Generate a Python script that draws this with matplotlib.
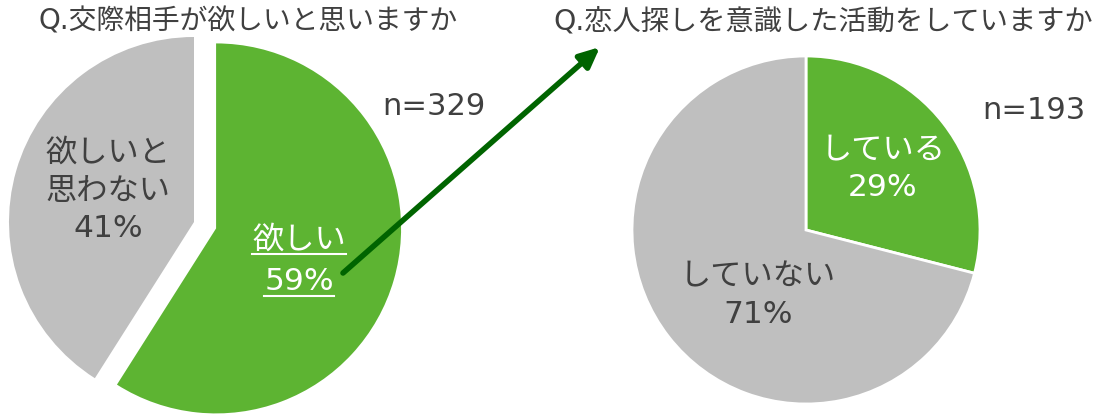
import matplotlib.pyplot as plt

plt.rcParams['font.family'] = ['DejaVu Sans', 'Noto Sans CJK JP']

# data
q1_title = 'Q.交際相手が欲しいと思いますか'
q1_labels = ['欲しい', '欲しいと\n思わない']
q1_values = [59, 41]
q1_n = 329

q2_title = 'Q.恋人探しを意識した活動をしていますか'
q2_labels = ['している', 'していない']
q2_values = [29, 71]
q2_n = 193

green = '#5DB432'
gray = '#BFBFBF'
dark = '#404040'
H = 417

fig = plt.figure(figsize=(10.99, 4.17), dpi=100)
ax = fig.add_axes([0, 0, 1, 1])

# left pie, "wanted" slice pulled out (explode is in data units here)
ax.pie(q1_values, colors=[green, gray], startangle=90, counterclock=False,
       explode=[23, 0], radius=185, center=(194, H - 222), frame=True)

# right pie
ax.pie(q2_values, colors=[green, gray], startangle=90, counterclock=False,
       radius=174, center=(806, H - 230), frame=True,
       wedgeprops=dict(edgecolor='white', linewidth=2))
ax.set_xlim(0, 1099)
ax.set_ylim(0, H)
ax.set_aspect('equal')
ax.axis('off')

ax.text(38, H - 21, q1_title, fontsize=20, color=dark, va='center', ha='left')
ax.text(553, H - 21, q2_title, fontsize=20.3, color=dark, va='center', ha='left')
ax.text(434, H - 106, f'n={q1_n}', fontsize=22, color=dark, va='center', ha='center')
ax.text(1034, H - 110, f'n={q2_n}', fontsize=22, color=dark, va='center', ha='center')

fs = 22.5
ax.text(108, H - 191, f'{q1_labels[1]}\n{q1_values[1]}%', fontsize=fs,
        color=dark, ha='center', va='center', linespacing=1.38)
t1 = ax.text(299, H - 240, q1_labels[0], fontsize=fs, color='white',
             ha='center', va='center')
t2 = ax.text(299, H - 282, f'{q1_values[0]}%', fontsize=fs, color='white',
             ha='center', va='center')
ax.text(883, H - 169, f'{q2_labels[0]}\n{q2_values[0]}%', fontsize=fs,
        color='white', ha='center', va='center', linespacing=1.38)
ax.text(758, H - 296, f'{q2_labels[1]}\n{q2_values[1]}%', fontsize=fs,
        color=dark, ha='center', va='center', linespacing=1.38)

# underline the highlighted label
fig.canvas.draw()
r = fig.canvas.get_renderer()
inv = ax.transData.inverted()
for t in (t1, t2):
    bb = t.get_window_extent(r)
    (x0, y0), (x1, _) = inv.transform([(bb.x0, bb.y0), (bb.x1, bb.y1)])
    ax.plot([x0, x1], [y0 + 1, y0 + 1], color='white', lw=1.5)

# arrow from left slice to right question
ax.annotate('', xy=(600, H - 47), xytext=(343, H - 273),
            arrowprops=dict(arrowstyle='-|>,head_length=1.2,head_width=0.55',
                            color='#006400', lw=4, shrinkA=0, shrinkB=0))

fig.savefig('out.png', dpi=100)
